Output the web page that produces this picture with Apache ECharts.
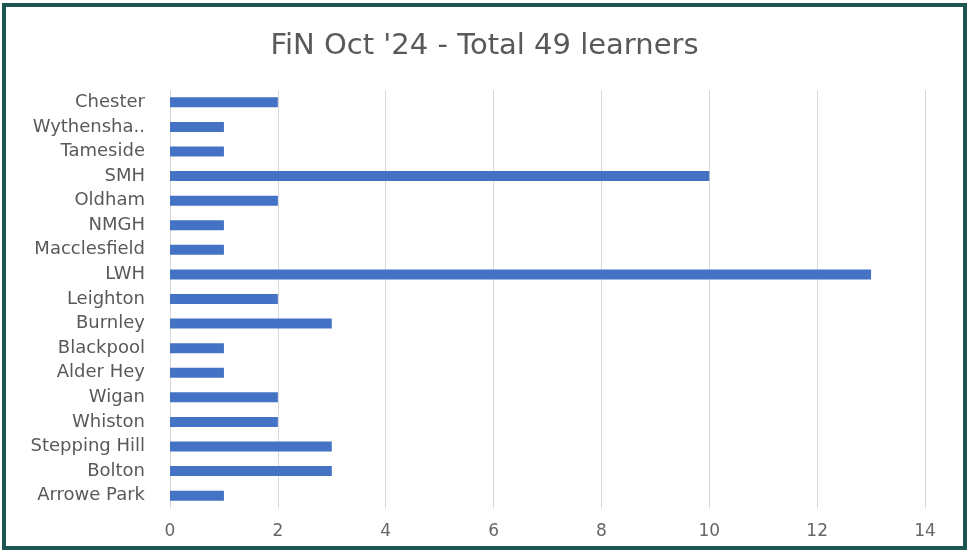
<!DOCTYPE html>
<html>
<head>
<meta charset="utf-8">
<script src="https://cdn.jsdelivr.net/npm/echarts@6/dist/echarts.min.js"></script>
<style>
    html, body { margin: 0; padding: 0; background: #ffffff; }
    #frame {
        position: absolute; left: 2px; top: 3px;
        width: 965px; height: 547px;
        box-sizing: border-box;
        border: 4px solid #1d5551;
        background: #ffffff;
    }
    #chart { position: absolute; left: -6px; top: -7px; width: 969px; height: 552px; }
</style>
</head>
<body>
<div id="frame"><div id="chart"></div></div>
<script>
// 各站点人数, 由上到下
var sites = ['Chester', 'Wythensha..', 'Tameside', 'SMH', 'Oldham', 'NMGH', 'Macclesfield', 'LWH',
    'Leighton', 'Burnley', 'Blackpool', 'Alder Hey', 'Wigan', 'Whiston', 'Stepping Hill', 'Bolton', 'Arrowe Park'];
var learners = [2, 1, 1, 10, 2, 1, 1, 13, 2, 3, 1, 1, 2, 2, 3, 3, 1];
var xTicks = [0, 2, 4, 6, 8, 10, 12, 14];

var chart = echarts.init(document.getElementById('chart'));
var option = {
    animation: false,
    title: {
        text: "FiN Oct '24 - Total 49 learners",
        left: 'center',
        top: 27,
        textStyle: {
            fontFamily: 'DejaVu Sans',
            fontSize: 29,
            fontWeight: 'normal',
            color: '#595959'
        }
    },
    grid: {
        left: 170,
        right: 44,
        top: 90,
        bottom: 44
    },
    xAxis: {
        type: 'value',
        min: xTicks[0],
        max: xTicks[xTicks.length - 1],
        interval: 2,
        axisLine: {show: false},
        axisTick: {show: false},
        splitLine: {lineStyle: {color: '#d9d9d9', width: 1}},
        axisLabel: {
            margin: 15,
            fontFamily: 'DejaVu Sans',
            fontSize: 17,
            color: '#666666'
        }
    },
    yAxis: {
        type: 'category',
        data: sites,
        inverse: true,
        axisLine: {show: false},
        axisTick: {show: false},
        axisLabel: {
            margin: 25,
            fontFamily: 'DejaVu Sans',
            fontSize: 18,
            color: '#595959'
        }
    },
    series: [
        {
            type: 'bar',
            data: learners,
            barWidth: 10,
            itemStyle: {color: '#4472c4'}
        }
    ]
};
chart.setOption(option);
</script>
</body>
</html>
